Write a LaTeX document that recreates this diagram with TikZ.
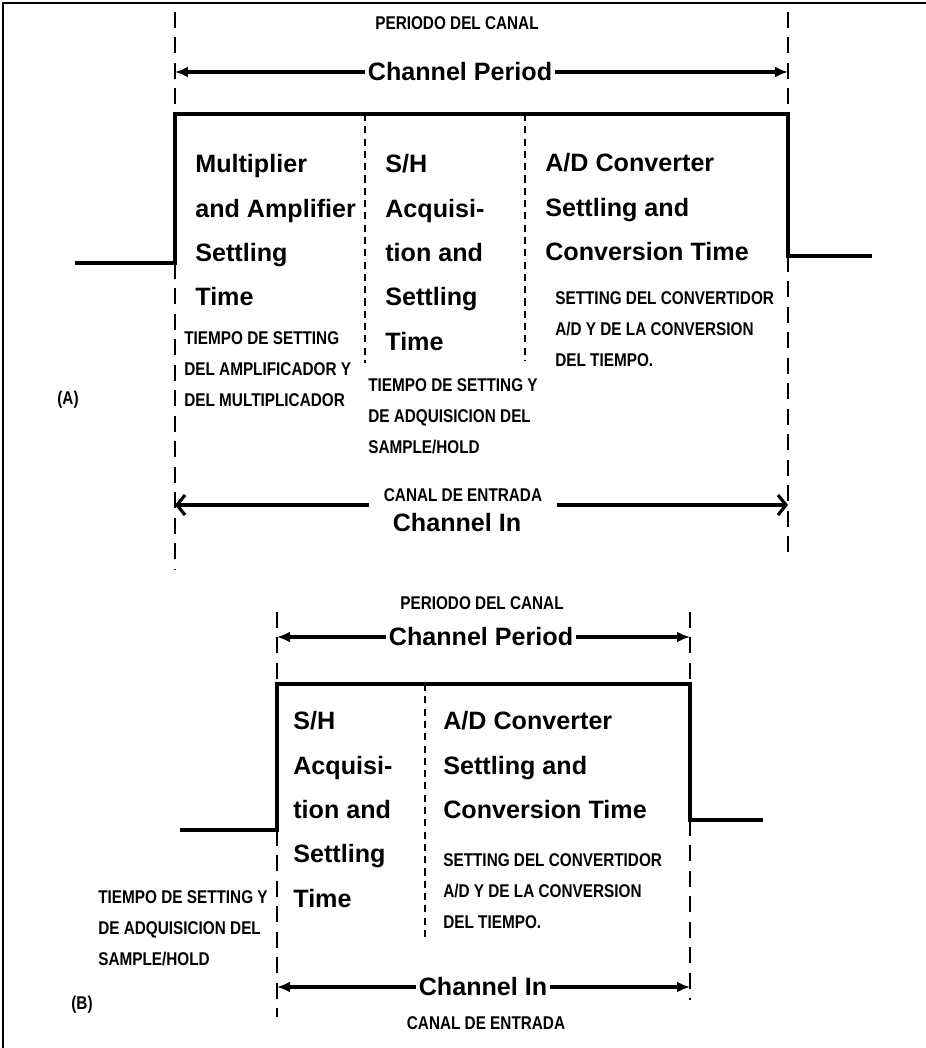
\documentclass[tikz,border=0pt]{standalone}
\usepackage{fontspec}
\setmainfont{Liberation Sans}
\newfontfamily\narrowfont{Liberation Sans}[FakeStretch=0.83]
\usetikzlibrary{arrows.meta,positioning}

\begin{document}
\begin{tikzpicture}[
  x=0.02cm,y=-0.02cm,
  pulse/.style={line width=2.3pt,line join=miter},
  guide/.style={line width=1.5pt,dash pattern=on 9pt off 5.5pt},
  divider/.style={line width=1.1pt,dash pattern=on 4pt off 3pt},
  span/.style={line width=2pt,-{Latex[length=2.6mm,width=2.2mm]}},
  barb/.style={line width=1.8pt,-{Straight Barb[length=1.6mm,width=4mm]}},
  entext/.style={font=\bfseries\fontsize{14.3}{25.3}\selectfont,align=left,inner sep=0pt},
  estext/.style={font=\narrowfont\bfseries\fontsize{10.5}{17.6}\selectfont,align=left,inner sep=0pt},
  spantext/.style={font=\bfseries\fontsize{14.3}{17}\selectfont,inner sep=1.5pt}
]
  \useasboundingbox (0,0) rectangle (926,1048);
  \draw[line width=1pt] (3,1048) -- (3,3) -- (926,3);

  % (A) full channel period
  \draw[guide] (175,12) -- (175,114);
  \draw[guide] (175,263) -- (175,570);
  \draw[guide] (788,12) -- (788,114);
  \draw[guide] (788,256) -- (788,552);
  \draw[pulse] (75,263) -- (175,263) -- (175,114) -- (788,114) -- (788,256) -- (872,256);
  \draw[divider] (365,114) -- (365,363);
  \draw[divider] (525,114) -- (525,360);

  \node[estext] (periodoA) at (457,23) {PERIODO DEL CANAL};
  \node[spantext] (chperA) at (460,72) {Channel Period};
  \coordinate (perAl) at (175,72);
  \coordinate (perAr) at (788,72);
  \draw[span] (chperA) -- (perAl);
  \draw[span] (chperA) -- (perAr);

  \node[entext,anchor=north west] (multA) at (195,154) {Multiplier\\and Amplifier\\Settling\\Time};
  \node[entext,anchor=north west] (shA) at (385,154) {S/H\\Acquisi-\\tion and\\Settling\\Time};
  \node[entext,anchor=north west] (adA) at (545,153) {A/D Converter\\Settling and\\Conversion Time};
  \node[estext,anchor=north west] (esmultA) at (184,331) {TIEMPO DE SETTING\\DEL AMPLIFICADOR Y\\DEL MULTIPLICADOR};
  \node[estext,anchor=north west] (esshA) at (368,378) {TIEMPO DE SETTING Y\\DE ADQUISICION DEL\\SAMPLE/HOLD};
  \node[estext,anchor=north west] (esadA) at (555,291) {SETTING DEL CONVERTIDOR\\A/D Y DE LA CONVERSION\\DEL TIEMPO.};
  \node[estext] (tagA) at (68,400) {(A)};

  \node[estext,outer sep=0.3cm] (canalA) at (463,495) {CANAL DE ENTRADA};
  \node[spantext] (chinA) at (457,523) {Channel In};
  \coordinate (inAl) at (175,505);
  \coordinate (inAr) at (788,505);
  \draw[barb] (canalA.west |- inAl) -- (inAl);
  \draw[barb] (canalA.east |- inAr) -- (inAr);

  % (B) shortened channel period
  \draw[guide] (277,612) -- (277,684);
  \draw[guide] (277,830) -- (277,1017);
  \draw[guide] (690,612) -- (690,684);
  \draw[guide] (690,820) -- (690,1000);
  \draw[pulse] (180,830) -- (277,830) -- (277,684) -- (690,684) -- (690,820) -- (763,820);
  \draw[divider] (425,684) -- (425,937);

  \node[estext] (periodoB) at (482,603) {PERIODO DEL CANAL};
  \node[spantext] (chperB) at (481,637) {Channel Period};
  \coordinate (perBl) at (277,637);
  \coordinate (perBr) at (690,637);
  \draw[span] (chperB) -- (perBl);
  \draw[span] (chperB) -- (perBr);

  \node[entext,anchor=north west] (shB) at (293,711) {S/H\\Acquisi-\\tion and\\Settling\\Time};
  \node[entext,anchor=north west] (adB) at (443,711) {A/D Converter\\Settling and\\Conversion Time};
  \node[estext,anchor=north west] (esadB) at (443,853) {SETTING DEL CONVERTIDOR\\A/D Y DE LA CONVERSION\\DEL TIEMPO.};
  \node[estext,anchor=north west] (esshB) at (98,890) {TIEMPO DE SETTING Y\\DE ADQUISICION DEL\\SAMPLE/HOLD};
  \node[estext] (tagB) at (82,1005) {(B)};

  \node[spantext] (chinB) at (483,987) {Channel In};
  \coordinate (inBl) at (277,987);
  \coordinate (inBr) at (690,987);
  \draw[span] (chinB) -- (inBl);
  \draw[span] (chinB) -- (inBr);
  \node[estext] (canalB) at (486,1023) {CANAL DE ENTRADA};
\end{tikzpicture}
\end{document}
